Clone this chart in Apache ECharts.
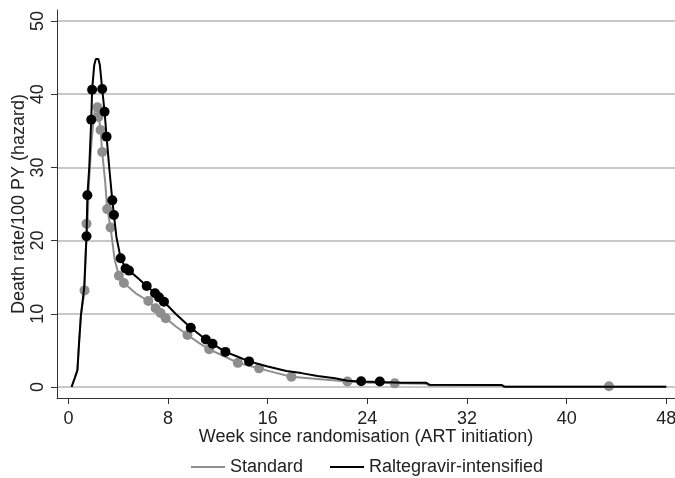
<!DOCTYPE html>
<html>
<head>
<meta charset="utf-8">
<script src="https://cdn.jsdelivr.net/npm/echarts@6/dist/echarts.min.js"></script>
<style>
  html, body { margin: 0; padding: 0; background: #fff; }
  #chart { width: 675px; height: 478px; }
</style>
</head>
<body>
<div id="chart"></div>
<script>
// Smoothed hazard of death (per 100 person-years) by week since randomisation
const standardCurve = [
  [0.25, 0], [0.5, 1.2], [0.72, 2.3], [0.85, 6], [1.0, 9.8], [1.29, 13.1],
  [1.4, 19], [1.53, 22.4], [1.65, 28], [1.85, 33.5], [2.05, 37], [2.2, 38.6],
  [2.35, 38.6], [2.47, 36.5], [2.58, 35.1], [2.71, 32.1], [2.95, 28], [3.1, 24.5],
  [3.38, 21.8], [3.7, 17.5], [4.05, 15.2], [4.45, 14.2], [5.4, 12.8], [6.41, 11.75],
  [7.0, 10.75], [7.4, 10.1], [7.81, 9.4], [8.6, 8.3], [9.56, 7.1], [10.5, 6.0],
  [11.3, 5.15], [12.5, 4.2], [13.6, 3.3], [15.3, 2.55], [16.5, 2.0], [17.9, 1.4],
  [20, 1.1], [22.4, 0.75], [24, 0.6], [26.2, 0.5], [28.7, 0.45], [29, 0.2],
  [34.8, 0.2], [35, 0.05], [48, 0.05]
];
const intensifiedCurve = [
  [0.25, 0], [0.5, 1.2], [0.72, 2.3], [0.85, 6], [1.0, 9.8], [1.26, 13.5],
  [1.45, 20.6], [1.52, 26.2], [1.67, 30], [1.83, 36.5], [1.9, 40.6], [2.07, 44],
  [2.2, 44.8], [2.4, 44.8], [2.52, 44], [2.71, 40.7], [2.9, 37.6], [3.06, 34.2],
  [3.3, 29.5], [3.52, 25.5], [3.65, 23.5], [3.85, 20.5], [4.19, 17.6], [4.59, 16.2],
  [4.86, 15.9], [5.5, 15.0], [6.28, 13.8], [6.95, 12.8], [7.27, 12.25], [7.67, 11.65],
  [8.6, 10.0], [9.82, 8.1], [11.03, 6.5], [11.57, 5.9], [12.6, 4.8], [13.5, 4.2],
  [14.5, 3.5], [16, 2.8], [17.5, 2.2], [18.7, 1.9], [20, 1.5], [21.4, 1.2],
  [22.4, 0.85], [23.5, 0.75], [25, 0.7], [26.7, 0.6], [28.7, 0.6], [29, 0.3],
  [34.8, 0.27], [35, 0.05], [48, 0.05]
];

// Hazard at the observed death times
const standardDeaths = [
  [1.29, 13.2], [1.45, 22.3], [2.33, 38.2], [2.4, 36.9], [2.58, 35.1], [2.71, 32.1],
  [3.11, 24.3], [3.38, 21.8], [4.05, 15.2], [4.45, 14.2], [6.41, 11.75], [7.0, 10.75],
  [7.4, 10.1], [7.81, 9.4], [9.56, 7.1], [11.3, 5.15], [13.6, 3.3], [15.3, 2.55],
  [17.9, 1.4], [22.4, 0.75], [26.2, 0.5], [43.4, 0.1]
];
const intensifiedDeaths = [
  [1.45, 20.6], [1.52, 26.2], [1.83, 36.5], [1.9, 40.6], [2.71, 40.7], [2.9, 37.6],
  [3.06, 34.2], [3.52, 25.5], [3.65, 23.5], [4.19, 17.6], [4.59, 16.2], [4.86, 15.9],
  [6.28, 13.8], [6.95, 12.8], [7.27, 12.25], [7.67, 11.65], [9.82, 8.1], [11.03, 6.5],
  [11.57, 5.9], [12.6, 4.8], [14.5, 3.5], [23.5, 0.8], [25.0, 0.75]
];

const weekTicks = [0, 8, 16, 24, 32, 40, 48];
const rateTicks = [0, 10, 20, 30, 40, 50];

const seriesNames = ['Standard', 'Raltegravir-intensified'];
const GREY = '#8e8e8e';
const BLACK = '#000000';
const FONT = 'Liberation Sans, Arial, sans-serif';
const TEXT = '#222222';

const chart = echarts.init(document.getElementById('chart'), null, { renderer: 'canvas' });

chart.setOption({
  animation: false,
  backgroundColor: '#ffffff',
  textStyle: { fontFamily: FONT },
  grid: { left: 57, right: 0, top: 10, bottom: 80, containLabel: false, outerBoundsMode: 'none' },
  legend: {
    data: seriesNames.map((n, i) => ({ name: n, icon: 'rect', itemStyle: { color: i ? BLACK : GREY } })),
    left: 186, top: 453,
    itemWidth: 34, itemHeight: 2, itemGap: 27,
    textStyle: { fontSize: 18, color: TEXT, fontFamily: FONT },
    selectedMode: false
  },
  xAxis: {
    type: 'value',
    min: -0.92, max: 48.7,
    name: 'Week since randomisation (ART initiation)',
    nameLocation: 'middle', nameGap: 30, nameMoveOverlap: false,
    nameTextStyle: { fontSize: 18, color: TEXT, fontFamily: FONT },
    axisLine: { show: true, onZero: false, lineStyle: { color: '#333', width: 1 } },
    axisTick: { show: true, length: 6, customValues: weekTicks, lineStyle: { color: '#333' } },
    axisLabel: { customValues: weekTicks, fontSize: 18, color: TEXT, margin: 12, fontFamily: FONT },
    splitLine: { show: false }
  },
  yAxis: {
    type: 'value',
    min: -1.5, max: 51.5,
    name: 'Death rate/100 PY (hazard)',
    nameLocation: 'middle', nameGap: 29, nameRotate: 90, nameMoveOverlap: false,
    nameTextStyle: { fontSize: 18, color: TEXT, fontFamily: FONT },
    axisLine: { show: true, onZero: false, lineStyle: { color: '#333', width: 1 } },
    axisTick: { show: true, length: 6, customValues: rateTicks, lineStyle: { color: '#333' } },
    axisLabel: { customValues: rateTicks, rotate: 90, fontSize: 18, color: TEXT, margin: 10, fontFamily: FONT },
    splitLine: { show: true, lineStyle: { color: '#c8c8c8', width: 2 } }
  },
  series: [
    {
      name: seriesNames[0], type: 'line', data: standardCurve,
      showSymbol: false, symbol: 'none', z: 2,
      lineStyle: { color: GREY, width: 2 }, itemStyle: { color: GREY }
    },
    {
      name: seriesNames[0] + ' deaths', type: 'scatter', data: standardDeaths,
      symbol: 'circle', symbolSize: 10, z: 3,
      itemStyle: { color: GREY, opacity: 1 }
    },
    {
      name: seriesNames[1], type: 'line', data: intensifiedCurve,
      showSymbol: false, symbol: 'none', z: 4,
      lineStyle: { color: BLACK, width: 2 }, itemStyle: { color: BLACK }
    },
    {
      name: seriesNames[1] + ' deaths', type: 'scatter', data: intensifiedDeaths,
      symbol: 'circle', symbolSize: 10, z: 5,
      itemStyle: { color: BLACK, opacity: 1 }
    }
  ]
});
</script>
</body>
</html>
